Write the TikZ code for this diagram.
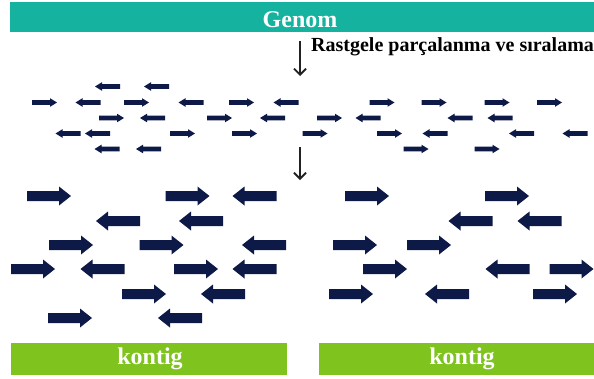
\documentclass[tikz,border=0pt]{standalone}
\usepackage{fontspec}
\setmainfont{Liberation Serif}
\usetikzlibrary{arrows.meta}

\definecolor{genomteal}{HTML}{15B29F}
\definecolor{kontiggreen}{HTML}{7FC41E}
\definecolor{fragnavy}{HTML}{0D1A48}
\definecolor{steparrow}{HTML}{222222}

\tikzset{
  % short sequencing read, pointing right (xscale=-1 turns it left)
  pics/readS/.style={code={
    \fill[fragnavy] (-12.5,-2.3) -- (5.5,-2.3) -- (5.5,-4.3) -- (12.5,0)
      -- (5.5,4.3) -- (5.5,2.3) -- (-12.5,2.3) -- cycle;}},
  % long read in the assembled layout
  pics/readL/.style={code={
    \fill[fragnavy] (-22,-5) -- (10,-5) -- (10,-9.5) -- (22,0)
      -- (10,9.5) -- (10,5) -- (-22,5) -- cycle;}},
  bandtext/.style={text=white, font=\bfseries\fontsize{24}{28}\selectfont},
  stepline/.style={draw=steparrow, line width=1.8pt,
    -{Straight Barb[length=6pt,width=12pt,line width=1.8pt]}},
  steplabel/.style={font=\bfseries\fontsize{20}{24}\selectfont, inner sep=0pt}
}

\begin{document}
\begin{tikzpicture}[x=1pt,y=-1pt]
\useasboundingbox (0,0) rectangle (594,378);

% genome band
\fill[genomteal] (10,2) rectangle (594,32);
\node[bandtext, anchor=base, inner sep=0pt] (genom) at (300,27) {Genom};

% first step: shearing and sequencing
\coordinate (s1) at (300,41);
\coordinate (e1) at (300,76);
\draw[stepline] (s1) -- (e1);
\node[steplabel, anchor=base west] (lbl) at (311,51) {Rastgele parçalanma ve sıralama};

% short reads: x position / direction (1 right, -1 left)
\foreach \y/\row in {
  86.5/{107.5/-1,156.5/-1},
  102.5/{44.5/1,88/-1,136.5/1,191/-1,241.5/1,286/-1,382/1,434/1,497/1,549.5/1},
  118/{111.5/1,152.5/-1,219.5/1,272.5/-1,329.5/1,368/-1,460/-1,500/-1},
  133.5/{68/-1,97.5/-1,182.5/1,244.5/1,315/1,389.5/1,435/-1,521.5/-1,575/-1},
  149/{107/-1,148.5/-1,416/1,487/1}}
  {\foreach \x/\s in \row {\pic[xscale=\s] at (\x,\y) {readS};}}

% second step: assembly
\coordinate (s2) at (300,147);
\coordinate (e2) at (300,180);
\draw[stepline] (s2) -- (e2);

% long reads
\foreach \y/\row in {
  196/{49/1,187.5/1,254.5/-1,367/1,507/1},
  221/{118/-1,201/-1,470.5/-1,539.5/-1},
  245/{71/1,161.5/1,264/-1,355/1,429/1},
  269/{33/1,102.5/-1,196/1,254.5/-1,385/1,507.5/-1,571.5/1},
  294/{144/1,223/-1,351/1,447/-1,555/1},
  318/{70/1,180/-1}}
  {\foreach \x/\s in \row {\pic[xscale=\s] at (\x,\y) {readL};}}

% contig bands
\fill[kontiggreen] (11,342.5) rectangle (287,374.5);
\fill[kontiggreen] (319,342.5) rectangle (594,374.5);
\node[bandtext, anchor=base, inner sep=0pt] (k1) at (150,364) {kontig};
\node[bandtext, anchor=base, inner sep=0pt] (k2) at (462,364) {kontig};
\end{tikzpicture}
\end{document}
